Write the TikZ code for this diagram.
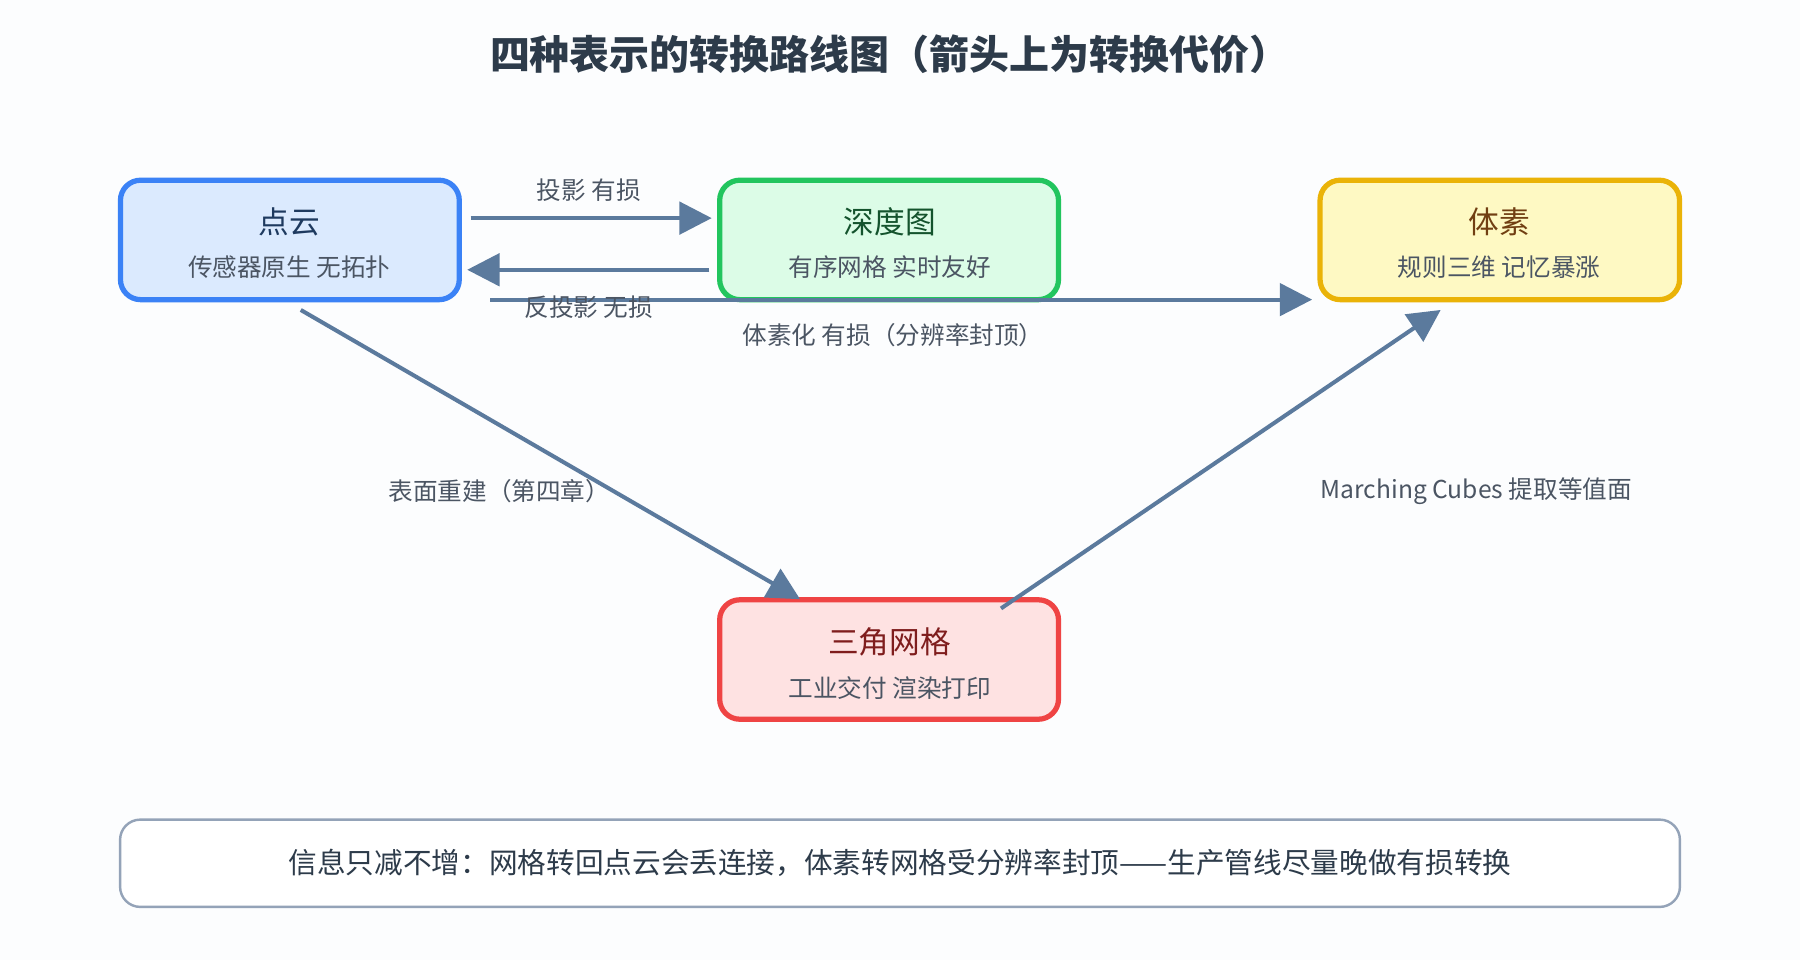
\documentclass[tikz,border=0pt]{standalone}
\usepackage{fontspec}
\setmainfont{Noto Sans CJK SC}
\usetikzlibrary{arrows.meta,positioning}
\definecolor{bgc}{HTML}{FCFDFE}
\definecolor{linec}{HTML}{5B7A9D}
\definecolor{titlec}{HTML}{2D3B4A}
\definecolor{subc}{HTML}{4B5563}
\tikzset{
  box/.style={draw, line width=1.3pt, rounded corners=5pt, minimum width=2.95cm, minimum height=1.04cm},
  head/.style={font=\fontsize{7.6}{9}\selectfont},
  sub/.style={font=\fontsize{6.1}{7}\selectfont, text=subc},
  lbl/.style={font=\fontsize{6.1}{7}\selectfont, text=subc},
  conn/.style={draw=linec, line width=1pt, -{Triangle[length=8pt,width=8pt]}},
}
\begin{document}
\begin{tikzpicture}[x=0.01cm,y=-0.01cm]
    \useasboundingbox[fill=bgc] (0,0) rectangle (1568,836);

    % Title
    \node[font=\fontsize{9.9}{11}\selectfont\bfseries, text=titlec] (title) at (775,47) {四种表示的转换路线图（箭头上为转换代价）};

    % Boxes
    \node[box, fill={rgb,255:red,219;green,234;blue,254}, draw={rgb,255:red,59;green,130;blue,246}] (pc) at (252.5,209) {};
    \node[box, fill={rgb,255:red,220;green,252;blue,231}, draw={rgb,255:red,34;green,197;blue,94}] (dm) at (774.5,209) {};
    \node[box, fill={rgb,255:red,254;green,249;blue,195}, draw={rgb,255:red,234;green,179;blue,8}, minimum width=3.13cm] (vx) at (1306.5,209) {};
    \node[box, fill={rgb,255:red,254;green,226;blue,226}, draw={rgb,255:red,239;green,68;blue,68}] (tm) at (774.5,574.5) {};

    \node[head, text={rgb,255:red,30;green,58;blue,95}] (pct) at (252,193) {点云};
    \node[sub] (pcs) at (252,233) {传感器原生 无拓扑};
    \node[head, text={rgb,255:red,20;green,83;blue,45}] (dmt) at (775,193) {深度图};
    \node[sub] (dms) at (775,233) {有序网格 实时友好};
    \node[head, text={rgb,255:red,113;green,63;blue,18}] (vxt) at (1306,193) {体素};
    \node[sub] (vxs) at (1306,233) {规则三维 记忆暴涨};
    \node[head, text={rgb,255:red,127;green,29;blue,29}] (tmt) at (775,559) {三角网格};
    \node[sub] (tms) at (775,599) {工业交付 渲染打印};

    % Connector ends
    \coordinate (a1) at (410,190);  \coordinate (a2) at (620,190);
    \coordinate (b1) at (618,235);  \coordinate (b2) at (407,235);
    \coordinate (c1) at (427,261);  \coordinate (c2) at (1143,261);
    \coordinate (d1) at (262,270);  \coordinate (d2) at (697,522);
    \coordinate (e1) at (872,530);  \coordinate (e2) at (1255,270);

    \draw[conn] (a1) -- (a2);
    \draw[conn] (b1) -- (b2);
    \draw[conn] (c1) -- (c2);
    \draw[conn] (d1) -- (d2);
    \draw[conn] (e1) -- (e2);

    % Labels
    \node[lbl] (la) at (513,166) {投影 有损};
    \node[lbl] (lb) at (513,268) {反投影 无损};
    \node[lbl] (lc) at (778,292) {体素化 有损（分辨率封顶）};
    \node[lbl] (ld) at (435,428) {表面重建（第四章）};
    \node[lbl] (le) at (1286,428) {Marching Cubes 提取等值面};

    % Note
    \node[draw={rgb,255:red,148;green,163;blue,184}, line width=0.6pt, rounded corners=5pt, fill=white,
          minimum width=13.58cm, minimum height=0.76cm, font=\fontsize{7.1}{8}\selectfont, text=titlec] (note) at (784,752)
          {信息只减不增：网格转回点云会丢连接，体素转网格受分辨率封顶——生产管线尽量晚做有损转换};
\end{tikzpicture}
\end{document}
